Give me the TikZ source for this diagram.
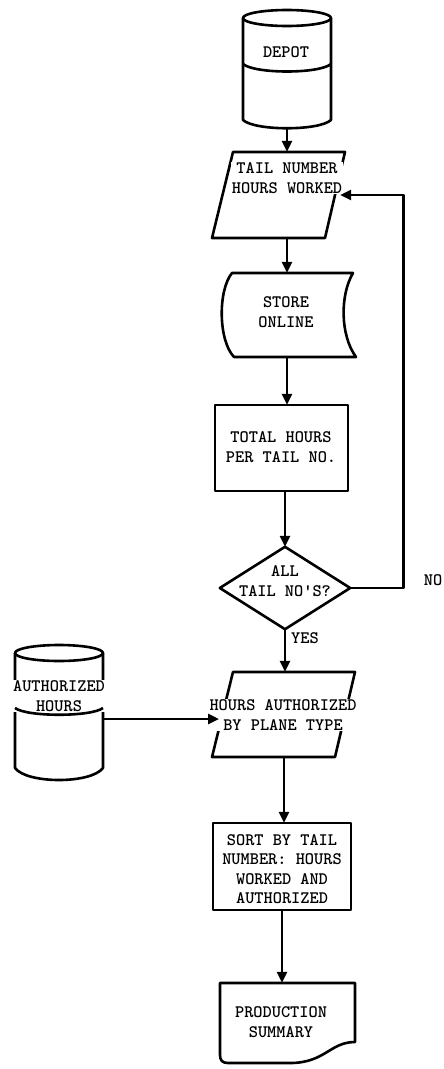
\documentclass[tikz,border=0pt]{standalone}
\usetikzlibrary{arrows.meta,calc}
\begin{document}
\begin{tikzpicture}[x=1pt,y=-1pt,
  outline/.style={line width=2.6pt, line join=round},
  conn/.style={line width=2.6pt,-{Triangle[width=10pt,length=11pt]}},
  loopline/.style={line width=2.6pt,line join=round,-{Triangle[width=10pt,length=11pt]}},
  lbl/.style={font=\ttfamily\bfseries\fontsize{17.5}{19.3}\selectfont, align=center, inner sep=1pt},
  cover/.style={lbl, fill=white},
  hold/.style 2 args={inner sep=0pt, minimum width=#1pt, minimum height=#2pt}
]
\useasboundingbox (0,0) rectangle (444,1069);
\fill[white] (0,0) rectangle (444,1069);

% placeholder nodes for connectors
\node[hold={88}{118}] (depot) at (287,69) {};
\node[hold={106}{86}] (tail) at (287,195) {};
\node[hold={124}{84}] (store) at (287,315) {};
\node[hold={133}{86}] (total) at (281.5,448) {};
\node[hold={130}{82}] (dec) at (285,588) {};
\node[hold={135}{85}] (auth) at (284,714.5) {};
\node[hold={88}{135}] (ahours) at (59,712.5) {};
\node[hold={138}{87}] (sort) at (282,866.5) {};
\node[hold={135}{80}] (prod) at (287.5,1023) {};
\coordinate (authin) at (219,719);

% DEPOT cylinder
\draw[outline] (287,18) ellipse [x radius=44, y radius=8];
\draw[outline] (243,18) -- (243,120) .. controls (255,131) and (319,131) .. (331,120) -- (331,18);
\draw[outline] (243,64) .. controls (255,74) and (319,74) .. (331,64);
\node[lbl] (depottxt) at (286,52) {DEPOT};

% TAIL NUMBER parallelogram
\draw[outline] (233,152) -- (345,152) -- (325,238) -- (212,238) -- cycle;
\node[cover] (tailtxt) at (287,178) {TAIL NUMBER\\HOURS WORKED};
\draw[outline] (233,152) -- (345,152);

% STORE ONLINE
\draw[outline] (232,273) -- (353,273) .. controls (340,295) and (340,335) .. (356,357)
  -- (234,357) .. controls (218,340) and (218,290) .. (232,273) -- cycle;
\node[lbl] (storetxt) at (286,312) {STORE\\ONLINE};

% TOTAL HOURS box
\draw[outline] (215,405) rectangle (348,491);
\node[lbl] (totaltxt) at (281,447) {TOTAL HOURS\\PER TAIL NO.};

% decision diamond
\draw[outline] (dec.north) -- (dec.east) -- (dec.south) -- (dec.west) -- cycle;
\node[lbl] (dectxt) at (285,581) {ALL\\TAIL NO'S?};
\node[lbl] (yes) at (305,638) {YES};
\node[lbl] (no) at (433,580) {NO};

% AUTHORIZED HOURS cylinder
\draw[outline] (15,653) -- (15,768) .. controls (27,784) and (91,784) .. (103,768) -- (103,653);
\node[cover] (ahourstxt) at (59,696) {AUTHORIZED\\HOURS};
\draw[outline] (59,653) ellipse [x radius=44, y radius=8];
\draw[outline] (15,708) .. controls (27,717) and (91,717) .. (103,708);

% HOURS AUTHORIZED parallelogram
\draw[outline] (233,672) -- (355,672) -- (335,757) -- (212,757) -- cycle;
\node[cover] (authtxt) at (283,715) {HOURS AUTHORIZED\\BY PLANE TYPE};
\draw[outline] (233,672) -- (355,672);

% SORT box
\draw[outline] (213,823) rectangle (351,910);
\node[lbl] (sorttxt) at (282,869) {SORT BY TAIL\\NUMBER: HOURS\\WORKED AND\\AUTHORIZED};

% PRODUCTION SUMMARY document
\draw[outline] (220,983) -- (355,983) -- (355,1042)
  .. controls (330,1042) and (325,1063) .. (290,1063)
  -- (228,1063) .. controls (222,1063) and (220,1060) .. (220,1055) -- cycle;
\node[lbl] (prodtxt) at (281,1022) {PRODUCTION\\SUMMARY};

% connectors
\draw[conn] (depot.south) -- (tail.north);
\draw[conn] (tail.south) -- (store.north);
\draw[conn] (store.south) -- (store.south |- total.north);
\draw[conn] (dec.north |- total.south) -- (dec.north);
\draw[loopline] (dec.east) -- ++(53,0) |- (tail.east);
\draw[conn] (dec.south) -- (dec.south |- auth.north);
\draw[conn] (ahours.east |- authin) -- (authin);
\draw[conn] (auth.south) -- (auth.south |- sort.north);
\draw[conn] (sort.south) -- (sort.south |- prod.north);
\end{tikzpicture}
\end{document}
